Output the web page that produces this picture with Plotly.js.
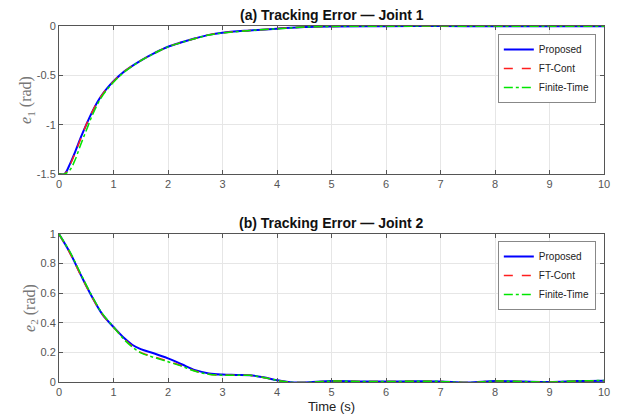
<!DOCTYPE html>
<html>
<head>
<meta charset="utf-8">
<script src="https://cdn.plot.ly/plotly-3.0.1.min.js"></script>
<style>html,body{margin:0;padding:0;background:#fff;}#chart{width:628px;height:420px;}</style>
</head>
<body>
<div id="chart"></div>
<script>
// Joint 1 data
var t1 = [0,0.1,0.2,0.3,0.4,0.5,0.6,0.7,0.8,0.9,1.0,1.2,1.5,1.75,2.0,2.25,2.5,2.75,3.0,3.5,4.0,4.5,5,6,7,8,9,10];
var e1Proposed = [-1.5,-1.5,-1.4,-1.27,-1.13,-1.0,-0.88,-0.775,-0.69,-0.62,-0.56,-0.46,-0.35,-0.275,-0.21,-0.165,-0.125,-0.09,-0.068,-0.045,-0.027,-0.01,-0.004,-0.002,-0.001,-0.003,-0.002,-0.002];
var e1FTCont   = [-1.5,-1.5,-1.41,-1.28,-1.14,-1.0,-0.88,-0.775,-0.69,-0.62,-0.562,-0.46,-0.35,-0.276,-0.21,-0.166,-0.126,-0.09,-0.069,-0.045,-0.027,-0.01,-0.004,-0.002,-0.001,-0.003,-0.002,-0.002];
var e1Finite   = [-1.5,-1.5,-1.46,-1.35,-1.2,-1.06,-0.92,-0.8,-0.705,-0.632,-0.57,-0.465,-0.352,-0.277,-0.212,-0.167,-0.127,-0.091,-0.07,-0.046,-0.028,-0.011,-0.004,-0.002,-0.001,-0.003,-0.002,-0.002];
// Joint 2 data
var t2 = [0,0.2,0.4,0.6,0.8,1.0,1.2,1.35,1.5,1.75,2.0,2.25,2.5,2.75,3,3.25,3.5,3.75,4,4.25,4.5,5,5.5,6,6.5,7,7.5,8,8.5,9,9.5,10];
var e2Proposed = [1.0,0.875,0.724,0.58,0.455,0.372,0.295,0.25,0.222,0.193,0.16,0.12,0.08,0.058,0.05,0.048,0.046,0.032,0.012,-0.002,-0.003,0.006,0.004,0.003,0.005,0.004,-0.004,0.006,0.003,0.0,0.006,0.009];
var e2FTCont   = [1.0,0.87,0.72,0.578,0.455,0.37,0.29,0.24,0.2,0.17,0.14,0.11,0.074,0.053,0.047,0.046,0.045,0.031,0.011,-0.002,-0.003,0.006,0.004,0.003,0.005,0.004,-0.004,0.006,0.003,0.0,0.006,0.009];
var e2Finite   = [1.0,0.88,0.73,0.585,0.46,0.372,0.285,0.235,0.197,0.165,0.137,0.107,0.072,0.052,0.046,0.046,0.045,0.031,0.011,-0.002,-0.003,0.006,0.004,0.003,0.005,0.004,-0.004,0.006,0.003,0.0,0.007,0.01];
var seriesNames = ['Proposed','FT-Cont','Finite-Time'];
var yTicks1 = [-1.5,-1,-0.5,0];
var yTickLabels1 = ['-1.5','-1','-0.5','0'];
var yTicks2 = [0,0.2,0.4,0.6,0.8,1];
var yTickLabels2 = ['0','0.2','0.4','0.6','0.8','1'];
var colors = ['rgb(0,0,255)','rgb(255,30,30)','rgb(0,230,0)'];
var dashes = ['solid','dash','dashdot'];
var widths = [2,1.5,1.5];

function mk(x, y, i, ax, leg) {
  return {x:x, y:y, name:seriesNames[i], mode:'lines', xaxis:ax[0], yaxis:ax[1], legend:leg,
    line:{color:colors[i], dash:dashes[i], width:widths[i], shape:'spline', smoothing:1}};
}
var data = [
  mk(t1,e1Proposed,0,['x','y'],'legend'),
  mk(t1,e1FTCont,1,['x','y'],'legend'),
  mk(t1,e1Finite,2,['x','y'],'legend'),
  mk(t2,e2Proposed,0,['x2','y2'],'legend2'),
  mk(t2,e2FTCont,1,['x2','y2'],'legend2'),
  mk(t2,e2Finite,2,['x2','y2'],'legend2')
];
var tickFont = {family:'Liberation Sans, Arial, sans-serif', size:11, color:'#555'};
function xax(anchor, title) {
  var a = {anchor:anchor, domain:[0,1], range:[0,10], dtick:1, tick0:0, showgrid:true, gridcolor:'#e6e6e6',
    zeroline:false, showline:true, linecolor:'#555', linewidth:1, mirror:'ticks', ticks:'inside', ticklen:4,
    tickcolor:'#555', tickfont:tickFont};
  if (title) a.title = {text:title, font:{family:'Liberation Sans, Arial, sans-serif', size:13, color:'#222'}, standoff:4};
  return a;
}
function yax(anchor, dom, range, vals, labels, label) {
  return {anchor:anchor, domain:dom, range:range, tickmode:'array', tickvals:vals, ticktext:labels,
    showgrid:true, gridcolor:'#e6e6e6',
    zeroline:false, showline:true, linecolor:'#555', linewidth:1, mirror:'ticks', ticks:'inside', ticklen:4,
    tickcolor:'#555', tickfont:tickFont,
    title:{text:label, font:{family:'Liberation Serif, Times New Roman, serif', size:16, color:'#777'}, standoff:0}};
}
var legStyle = {xanchor:'right', yanchor:'top', x:0.985, bgcolor:'#fff', bordercolor:'#888', borderwidth:1,
  font:{family:'Liberation Sans, Arial, sans-serif', size:10, color:'#222'}, tracegroupgap:0, itemwidth:30};
var titleFont = {family:'Liberation Sans, Arial, sans-serif', size:14, color:'#111'};
var layout = {
  width:628, height:420, paper_bgcolor:'#fff', plot_bgcolor:'#fff',
  margin:{l:59, r:24, t:26, b:38},
  showlegend:true,
  xaxis: xax('y', null),
  yaxis: yax('x', [0.5843,1], [-1.5,0], yTicks1, yTickLabels1, '<i>e</i><sub>1</sub> (rad)'),
  xaxis2: xax('y2', 'Time (s)'),
  yaxis2: yax('x2', [0,0.4157], [0,1], yTicks2, yTickLabels2, '<i>e</i><sub>2</sub> (rad)'),
  legend: Object.assign({}, legStyle, {y:0.9775}),
  legend2: Object.assign({}, legStyle, {y:0.396}),
  annotations:[
    {text:'<b>(a) Tracking Error — Joint 1</b>', xref:'paper', yref:'paper', x:0.5, y:1, yanchor:'bottom', yshift:1, showarrow:false, font:titleFont},
    {text:'<b>(b) Tracking Error — Joint 2</b>', xref:'paper', yref:'paper', x:0.5, y:0.4157, yanchor:'bottom', yshift:1, showarrow:false, font:titleFont}
  ]
};
Plotly.newPlot('chart', data, layout, {displayModeBar:false, staticPlot:true});
</script>
</body>
</html>
